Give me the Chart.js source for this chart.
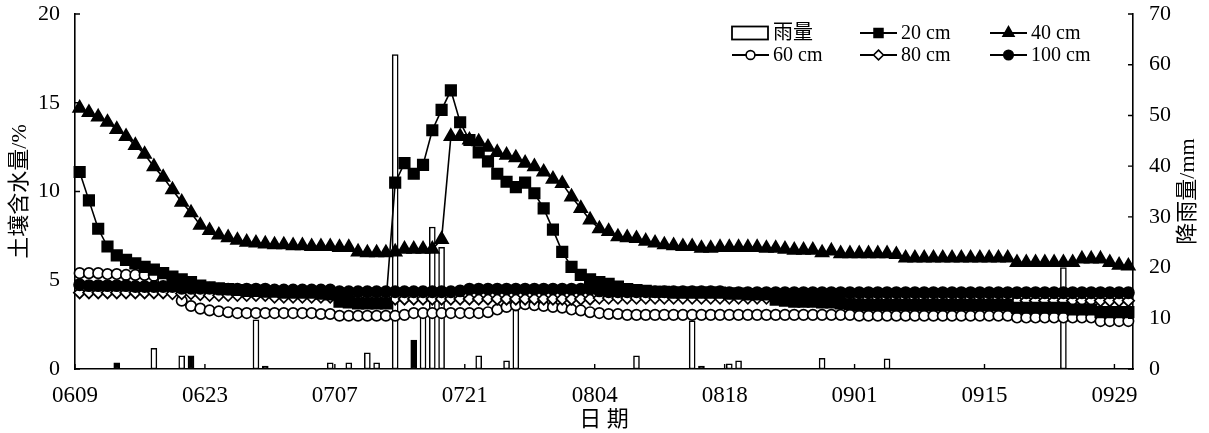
<!DOCTYPE html>
<html lang="zh">
<head>
<meta charset="utf-8">
<title>土壤含水量与降雨量</title>
<script src="https://cdn.jsdelivr.net/npm/chart.js@4.4.1/dist/chart.umd.min.js"></script>
<style>
    html, body { margin: 0; padding: 0; background: #fff; }
    #wrap { width: 1209px; height: 433px; }
</style>
</head>
<body>
<div id="wrap"><canvas id="soilChart" width="1209" height="433"></canvas></div>
<script>
// x axis labels, one every 14 days
const tickLabels = ['0609', '0623', '0707', '0721', '0804', '0818', '0901', '0915', '0929'];

// daily rainfall (mm), only the days with rain
const rainDays = ['0613', '0617', '0620', '0621', '0628', '0629', '0706', '0708', '0710', '0711',
    '0713', '0715', '0716', '0717', '0718', '0722', '0725', '0726', '0808', '0814',
    '0815', '0818', '0819', '0828', '0904', '0923'];
const rainMm = [1.2, 4.1, 2.6, 2.6, 9.7, 0.6, 1.2, 1.2, 3.2, 1.2,
    62, 5.7, 12, 28, 24, 2.6, 1.6, 11.6, 2.6, 9.5,
    0.6, 1.0, 1.6, 2.1, 2.0, 20];

// soil moisture (%), one value per day from 0609 to 0930
const moisture20 = [
    11.1, 9.5, 7.9, 6.9, 6.4, 6.15, 5.95, 5.75, 5.6, 5.4, 5.2, 5.05, 4.9, 4.7,
    4.6, 4.55, 4.5, 4.45, 4.4, 4.4, 4.35, 4.35, 4.3, 4.3, 4.3, 4.3, 4.25, 4.2,
    3.8, 3.75, 3.7, 3.7, 3.7, 3.7, 10.5, 11.6, 11.0, 11.5, 13.45, 14.6, 15.7, 13.9,
    12.9, 12.2, 11.7, 11.0, 10.55, 10.25, 10.5, 9.9, 9.05, 7.85, 6.6, 5.75, 5.3, 5.05,
    4.9, 4.8, 4.65, 4.5, 4.45, 4.4, 4.35, 4.35, 4.3, 4.3, 4.3, 4.3, 4.3, 4.3,
    4.25, 4.25, 4.2, 4.2, 4.2, 3.9, 3.85, 3.8, 3.8, 3.8, 3.75, 3.75, 3.7, 3.65,
    3.6, 3.6, 3.6, 3.6, 3.6, 3.6, 3.6, 3.6, 3.6, 3.6, 3.6, 3.6, 3.6, 3.6,
    3.6, 3.6, 3.6, 3.45, 3.45, 3.45, 3.45, 3.45, 3.45, 3.35, 3.35, 3.35, 3.2, 3.2,
    3.2, 3.2
];
const moisture40 = [
    14.7, 14.45, 14.2, 13.9, 13.5, 13.1, 12.6, 12.1, 11.4, 10.8, 10.1, 9.4, 8.8, 8.1,
    7.8, 7.55, 7.4, 7.25, 7.15, 7.1, 7.05, 7.0, 7.0, 6.95, 6.95, 6.9, 6.9, 6.9,
    6.85, 6.85, 6.6, 6.55, 6.55, 6.55, 6.6, 6.75, 6.75, 6.75, 6.75, 7.3, 13.1, 13.1,
    12.9, 12.8, 12.5, 12.2, 12.05, 11.9, 11.6, 11.4, 11.1, 10.7, 10.45, 9.7, 9.05, 8.4,
    7.9, 7.75, 7.45, 7.4, 7.35, 7.2, 7.1, 7.0, 6.95, 6.9, 6.9, 6.8, 6.8, 6.85,
    6.85, 6.85, 6.85, 6.85, 6.8, 6.8, 6.75, 6.7, 6.7, 6.7, 6.55, 6.65, 6.5, 6.5,
    6.5, 6.5, 6.5, 6.5, 6.45, 6.25, 6.25, 6.25, 6.25, 6.25, 6.25, 6.25, 6.25, 6.25,
    6.25, 6.25, 6.25, 6.0, 6.0, 6.0, 6.0, 6.0, 6.0, 6.0, 6.2, 6.2, 6.2, 6.0,
    5.85, 5.8
];
const moisture60 = [
    5.4, 5.4, 5.4, 5.35, 5.35, 5.3, 5.3, 5.3, 5.25, 5.0, 4.5, 3.85, 3.55, 3.4,
    3.3, 3.25, 3.2, 3.15, 3.15, 3.15, 3.15, 3.15, 3.15, 3.15, 3.15, 3.15, 3.1, 3.1,
    3.0, 3.0, 3.0, 3.0, 3.0, 3.0, 3.0, 3.05, 3.15, 3.15, 3.15, 3.15, 3.15, 3.15,
    3.15, 3.15, 3.2, 3.35, 3.5, 3.6, 3.65, 3.6, 3.55, 3.5, 3.45, 3.35, 3.3, 3.2,
    3.15, 3.1, 3.1, 3.05, 3.05, 3.05, 3.05, 3.05, 3.05, 3.05, 3.05, 3.05, 3.05, 3.05,
    3.05, 3.05, 3.05, 3.05, 3.05, 3.05, 3.05, 3.05, 3.05, 3.05, 3.05, 3.05, 3.05, 3.05,
    3.0, 3.0, 3.0, 3.0, 3.0, 3.0, 3.0, 3.0, 3.0, 3.0, 3.0, 3.0, 3.0, 3.0,
    3.0, 3.0, 3.0, 2.9, 2.9, 2.9, 2.9, 2.9, 2.9, 2.9, 2.9, 2.9, 2.7, 2.7,
    2.7, 2.7
];
const moisture80 = [
    4.3, 4.3, 4.3, 4.3, 4.3, 4.3, 4.3, 4.3, 4.3, 4.3, 4.25, 4.25, 4.25, 4.2,
    4.15, 4.15, 4.15, 4.15, 4.15, 4.15, 4.15, 4.05, 4.05, 4.05, 4.05, 4.05, 4.05, 4.05,
    4.05, 4.0, 3.95, 3.95, 3.95, 3.95, 3.95, 3.95, 3.95, 3.95, 3.95, 3.95, 3.95, 3.95,
    3.95, 3.95, 3.95, 3.95, 3.95, 3.95, 3.95, 3.95, 3.95, 3.95, 3.95, 3.95, 3.95, 3.95,
    4.0, 4.0, 4.0, 4.0, 4.0, 4.0, 4.0, 4.0, 4.0, 4.0, 4.0, 4.0, 4.0, 4.0,
    4.0, 4.0, 4.0, 4.0, 4.0, 4.0, 4.0, 4.0, 4.0, 4.0, 4.0, 4.0, 4.0, 4.0,
    4.0, 4.0, 4.0, 4.0, 4.0, 4.0, 4.0, 4.0, 4.0, 4.0, 4.0, 4.0, 4.0, 4.0,
    4.0, 4.0, 4.0, 3.85, 3.85, 3.85, 3.85, 3.85, 3.85, 3.85, 3.85, 3.85, 3.85, 3.85,
    3.85, 3.85
];
const moisture100 = [
    4.75, 4.7, 4.7, 4.7, 4.7, 4.7, 4.65, 4.65, 4.65, 4.65, 4.65, 4.55, 4.55, 4.55,
    4.55, 4.5, 4.5, 4.5, 4.5, 4.5, 4.5, 4.45, 4.45, 4.45, 4.45, 4.45, 4.45, 4.45,
    4.35, 4.35, 4.35, 4.35, 4.35, 4.35, 4.35, 4.35, 4.35, 4.35, 4.35, 4.35, 4.35, 4.4,
    4.5, 4.5, 4.5, 4.5, 4.5, 4.5, 4.5, 4.5, 4.5, 4.5, 4.5, 4.5, 4.5, 4.5,
    4.4, 4.35, 4.35, 4.35, 4.35, 4.35, 4.35, 4.35, 4.35, 4.35, 4.35, 4.35, 4.35, 4.35,
    4.3, 4.3, 4.3, 4.3, 4.3, 4.3, 4.3, 4.3, 4.3, 4.3, 4.3, 4.3, 4.3, 4.3,
    4.3, 4.3, 4.3, 4.3, 4.3, 4.3, 4.3, 4.3, 4.3, 4.3, 4.3, 4.3, 4.3, 4.3,
    4.3, 4.3, 4.3, 4.3, 4.3, 4.3, 4.3, 4.3, 4.3, 4.3, 4.3, 4.3, 4.3, 4.3,
    4.3, 4.3
];

// rain bars that print as solid black in the original
const solidRainDays = ['0613', '0621', '0629', '0715', '0815'];

const serif = "'Liberation Serif', 'Noto Sans CJK SC', serif";

// day list 0609 .. 0930
const dates = moisture20.map((_, i) => {
    const d = new Date(2021, 5, 9 + i);
    return String(d.getMonth() + 1).padStart(2, '0') + String(d.getDate()).padStart(2, '0');
});

function toPoints(values) {
    return values.map((v, i) => ({ x: i + 0.5, y: v }));
}

function lineSet(label, values, pointStyle, radius, fill, order) {
    return {
        type: 'line',
        label: label,
        data: toPoints(values),
        yAxisID: 'y',
        borderColor: '#000',
        borderWidth: 1.6,
        backgroundColor: fill,
        pointStyle: pointStyle,
        pointRadius: radius,
        pointHoverRadius: radius,
        pointBackgroundColor: fill,
        pointBorderColor: '#000',
        pointBorderWidth: 1.7,
        tension: 0,
        clip: false,
        order: order
    };
}

const rainPoints = rainDays.map((d, k) => ({ x: dates.indexOf(d) + 0.5, y: rainMm[k] }));

const rainSet = {
    type: 'bar',
    label: '雨量',
    data: rainPoints,
    yAxisID: 'y1',
    backgroundColor: ctx => {
        const p = ctx.raw;
        if (!p) return '#fff';
        return solidRainDays.includes(dates[Math.floor(p.x)]) ? '#000' : '#fff';
    },
    borderColor: '#000',
    borderWidth: 1.5,
    borderSkipped: false,
    barThickness: 6,
    grouped: false,
    order: 10
};

const datasets = [
    rainSet,
    lineSet('20 cm', moisture20, 'rect', 7.4, '#000', 2),
    lineSet('40 cm', moisture40, 'triangle', 7.4, '#000', 1),
    lineSet('60 cm', moisture60, 'circle', 5.2, '#fff', 5),
    lineSet('80 cm', moisture80, 'rectRot', 5.8, '#fff', 4),
    lineSet('100 cm', moisture100, 'circle', 5.6, '#000', 3)
];

// legend in a 3 x 2 grid, top right
const legendLayout = [
    { label: '雨量', col: 0, row: 0 },
    { label: '20 cm', col: 1, row: 0 },
    { label: '40 cm', col: 2, row: 0 },
    { label: '60 cm', col: 0, row: 1 },
    { label: '80 cm', col: 1, row: 1 },
    { label: '100 cm', col: 2, row: 1 }
];

function drawMarker(ctx, style, r, x, y) {
    ctx.beginPath();
    if (style === 'rect') {
        const s = r * Math.SQRT1_2;
        ctx.rect(x - s, y - s, 2 * s, 2 * s);
    } else if (style === 'triangle') {
        ctx.moveTo(x, y - r);
        ctx.lineTo(x + r * 0.866, y + r * 0.5);
        ctx.lineTo(x - r * 0.866, y + r * 0.5);
        ctx.closePath();
    } else if (style === 'rectRot') {
        ctx.moveTo(x, y - r);
        ctx.lineTo(x + r, y);
        ctx.lineTo(x, y + r);
        ctx.lineTo(x - r, y);
        ctx.closePath();
    } else {
        ctx.arc(x, y, r, 0, Math.PI * 2);
    }
    ctx.fill();
    ctx.stroke();
}

const gridLegend = {
    id: 'gridLegend',
    afterDraw(chart) {
        const ctx = chart.ctx;
        const colX = [732, 860, 990];
        const rowY = [33, 55];
        const sampleW = 37;
        ctx.save();
        ctx.font = '20px ' + serif;
        ctx.textBaseline = 'middle';
        ctx.textAlign = 'left';
        legendLayout.forEach(item => {
            const ds = chart.data.datasets.find(d => d.label === item.label);
            const x0 = colX[item.col];
            const y = rowY[item.row];
            ctx.strokeStyle = '#000';
            ctx.fillStyle = '#000';
            if (ds.type === 'bar') {
                ctx.lineWidth = 1.8;
                ctx.fillStyle = '#fff';
                ctx.fillRect(x0, y - 6.5, sampleW - 1, 13);
                ctx.strokeRect(x0, y - 6.5, sampleW - 1, 13);
            } else {
                ctx.lineWidth = 1.8;
                ctx.beginPath();
                ctx.moveTo(x0, y);
                ctx.lineTo(x0 + sampleW, y);
                ctx.stroke();
                ctx.lineWidth = 1.6;
                ctx.fillStyle = ds.pointBackgroundColor;
                drawMarker(ctx, ds.pointStyle, ds.pointRadius * 0.85, x0 + sampleW / 2, y);
            }
            ctx.fillStyle = '#000';
            ctx.fillText(item.label, x0 + sampleW + 4, y + 1);
        });
        ctx.restore();
    }
};

// short tick marks pointing into the plot, plus the right axis title
const innerTicks = {
    id: 'innerTicks',
    afterDraw(chart) {
        const { ctx, chartArea, scales } = chart;
        const len = 5;
        ctx.save();
        ctx.strokeStyle = '#000';
        ctx.lineWidth = 1.4;
        ctx.beginPath();
        scales.x.ticks.forEach(t => {
            const px = scales.x.getPixelForValue(t.value);
            ctx.moveTo(px, chartArea.bottom);
            ctx.lineTo(px, chartArea.bottom - len);
        });
        scales.y.ticks.forEach(t => {
            const py = scales.y.getPixelForValue(t.value);
            ctx.moveTo(chartArea.left, py);
            ctx.lineTo(chartArea.left + len, py);
        });
        scales.y1.ticks.forEach(t => {
            const py = scales.y1.getPixelForValue(t.value);
            ctx.moveTo(chartArea.right, py);
            ctx.lineTo(chartArea.right - len, py);
        });
        ctx.stroke();

        ctx.translate(1188, (chartArea.top + chartArea.bottom) / 2);
        ctx.rotate(-Math.PI / 2);
        ctx.font = '22px ' + serif;
        ctx.fillStyle = '#000';
        ctx.textAlign = 'center';
        ctx.textBaseline = 'middle';
        ctx.fillText('降雨量/mm', 0, 0);
        ctx.restore();
    }
};

const axisBorder = { display: true, color: '#000', width: 1.6 };
const tickFont = { family: serif, size: 22 };

function fixVertical(width) {
    return scale => {
        scale.width = width;
        scale.paddingTop = 0;
        scale.paddingBottom = 0;
    };
}

new Chart(document.getElementById('soilChart'), {
    type: 'line',
    data: { datasets: datasets },
    options: {
        responsive: false,
        devicePixelRatio: 1,
        animation: false,
        layout: { padding: { top: 14, left: 0, right: 0, bottom: 0 } },
        plugins: {
            legend: { display: false },
            tooltip: { enabled: false }
        },
        scales: {
            x: {
                type: 'linear',
                min: 0,
                max: 114,
                offset: false,
                grid: { display: false },
                border: axisBorder,
                afterBuildTicks: scale => {
                    scale.ticks = tickLabels.map((_, k) => ({ value: k * 14 }));
                },
                afterFit: scale => {
                    scale.height = 64;
                    scale.paddingLeft = 0;
                    scale.paddingRight = 0;
                },
                ticks: {
                    autoSkip: false,
                    maxRotation: 0,
                    padding: 5,
                    color: '#000',
                    font: { family: serif, size: 23 },
                    callback: value => tickLabels[Math.round(value / 14)]
                },
                title: {
                    display: true,
                    text: '日 期',
                    color: '#000',
                    font: { family: serif, size: 22 },
                    padding: { top: 0, bottom: 0 }
                }
            },
            y: {
                position: 'left',
                min: 0,
                max: 20,
                grid: { display: false },
                border: axisBorder,
                afterFit: fixVertical(75),
                ticks: { stepSize: 5, padding: 7, color: '#000', font: tickFont },
                title: {
                    display: true,
                    text: '土壤含水量/%',
                    color: '#000',
                    font: { family: serif, size: 22 },
                    padding: { top: 7, bottom: 0 }
                }
            },
            y1: {
                position: 'right',
                min: 0,
                max: 70,
                grid: { display: false },
                border: axisBorder,
                afterFit: fixVertical(76),
                ticks: { stepSize: 10, padding: 8, color: '#000', font: tickFont }
            }
        }
    },
    plugins: [innerTicks, gridLegend]
});
</script>
</body>
</html>
